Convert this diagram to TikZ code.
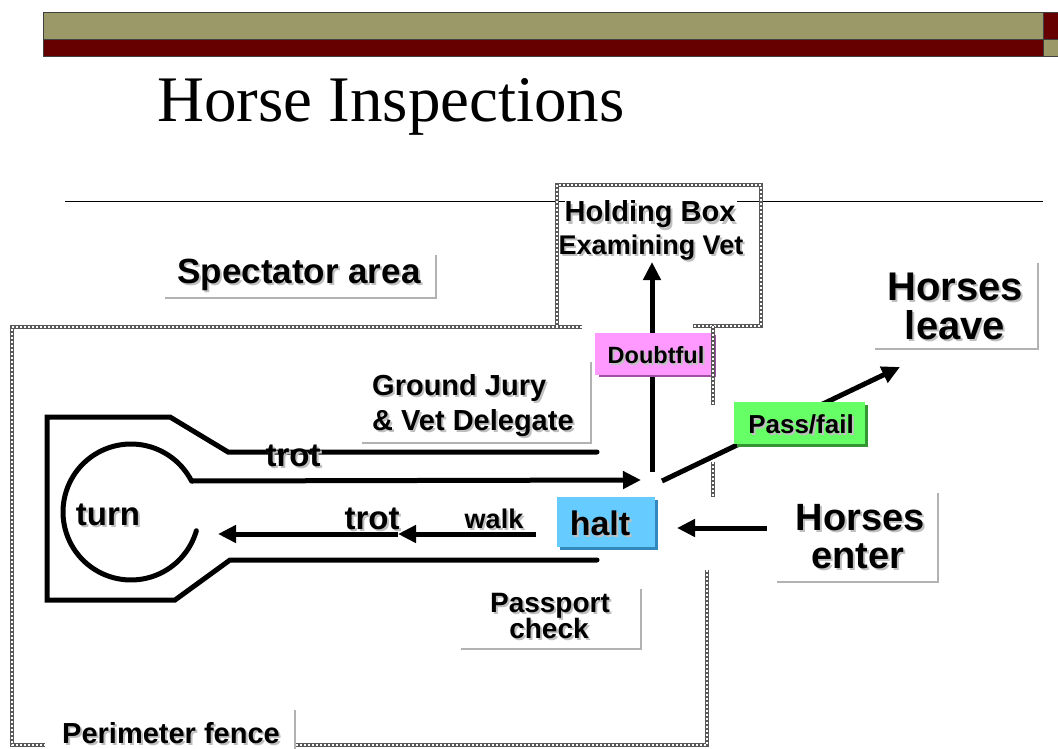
\documentclass[tikz,border=0pt]{standalone}
\usepackage{fontspec}
\setmainfont{Liberation Sans}
\newfontfamily\serifttl{Liberation Serif}
\usetikzlibrary{arrows.meta}
\definecolor{olivebar}{RGB}{155,153,104}
\definecolor{redbar}{RGB}{102,0,0}
\definecolor{pinkbox}{RGB}{255,153,255}
\definecolor{pinksh}{RGB}{160,80,160}
\definecolor{greenbox}{RGB}{102,255,102}
\definecolor{greensh}{RGB}{51,150,51}
\definecolor{bluebox}{RGB}{102,204,255}
\definecolor{bluesh}{RGB}{51,136,190}
\newcommand\shtxt[5]{%
  \node[txt, anchor=#3, text=gray!50, shift={(2,2)}, font=\fontsize{#4}{#4}\selectfont\bfseries] (#1s) at (#2) {#5};
  \node[txt, anchor=#3, font=\fontsize{#4}{#4}\selectfont\bfseries] (#1) at (#2) {#5};}
\begin{document}
\begin{tikzpicture}[x=1pt,y=-1pt,
  track/.style={line width=5pt, line cap=round, line join=miter},
  arr/.style={line width=5pt, -{Triangle[length=18pt,width=17pt]}},
  fence/.style={draw=white, line width=1.2pt, dash pattern=on 2pt off 2pt,
    preaction={draw=black!65, line width=4.5pt, solid}},
  frame/.style={line width=1.8pt, draw=gray!60},
  txt/.style={inner sep=0pt},
  cbox/.style={inner sep=0pt, anchor=north west, draw=none},
  ]
\useasboundingbox (0,0) rectangle (1058,749);
% top bars
\filldraw[fill=olivebar, draw=black!75, line width=1pt] (43,13) rectangle (1043,40);
\filldraw[fill=redbar, draw=black!75, line width=1pt] (43,40) rectangle (1043,57);
\filldraw[fill=redbar, draw=black!75, line width=1pt] (1043,13) rectangle (1062,40);
\filldraw[fill=olivebar, draw=black!75, line width=1pt] (1043,40) rectangle (1062,57);
% title
\node[txt, anchor=base west, font=\serifttl\fontsize{65}{65}\selectfont] (title) at (157,122) {Horse Inspections};
% rule
\draw[line width=1pt] (65,201) -- (565,201);
\draw[line width=1pt] (737,201) -- (1043,201);
% track
\draw[track] (597,452) -- (228,452) -- (170,417) -- (47,417) -- (47,600) -- (175,600) -- (230,560) -- (597,560);
\draw[track] plot[domain=-27:-344, samples=90, smooth] ({131+68*cos(\x)},{512+68*sin(\x)});
\coordinate (tA) at (191.6,481);
\coordinate (tB) at (641,480);
\draw[arr] (tA) -- (tB);
\coordinate (wA) at (536,534);
\coordinate (wB) at (398,534);
\coordinate (wC) at (218,534);
\draw[arr] (wB) -- (wC);
\draw[arr] (wA) -- (wB);
\coordinate (eA) at (767,528);
\coordinate (eB) at (677,528);
\draw[arr] (eA) -- (eB);
\coordinate (dA) at (652,472);
\coordinate (dB) at (652,262);
\draw[arr] (dA) -- (dB);
\coordinate (pA) at (662,481);
\coordinate (pB) at (900,367);
\draw[arr] (pA) -- (pB);
% coloured boxes
\node[cbox, fill=pinksh, minimum width=117pt, minimum height=42pt] (doubtsh) at (599,335) {};
\node[cbox, fill=pinkbox, minimum width=117pt, minimum height=42pt] (doubtbox) at (595,333) {};
\node[cbox, fill=greensh, minimum width=131pt, minimum height=42pt] (passsh) at (737,405) {};
\node[cbox, fill=greenbox, minimum width=131pt, minimum height=42pt] (passbox) at (734,402) {};
\node[cbox, fill=bluesh, minimum width=98pt, minimum height=50pt] (haltsh) at (560,500) {};
\node[cbox, fill=bluebox, minimum width=98pt, minimum height=50pt] (haltbox) at (557,497) {};
% fences
\draw[fence] (582,327) -- (12,327) -- (12,745) -- (707,745) -- (707,570);
\draw[fence] (557,327) -- (557,185) -- (761,185) -- (761,326) -- (693,326);
\draw[fence] (713,326) -- (713,405);
\draw[fence] (713,462) -- (713,497);
% label frames
\draw[frame] (165,298) -- (436,298) -- (436,255);
\draw[frame] (362,443) -- (591,443) -- (591,362);
\draw[frame] (875,349) -- (1038,349) -- (1038,263);
\draw[frame] (777,582) -- (938,582) -- (938,493);
\draw[frame] (461,649) -- (641,649) -- (641,589);
\fill[white] (45,705) rectangle (295,752);
\draw[frame] (295,752) -- (295,710);
% texts
\shtxt{hold}{650,222}{base}{29}{Holding Box}
\shtxt{exam}{651,254}{base}{27}{Examining Vet}
\shtxt{spec}{299,283}{base}{35}{Spectator area}
\shtxt{leaveA}{955,300}{base}{40}{Horses}
\shtxt{leaveB}{955,339}{base}{40}{leave}
\shtxt{enterA}{860,530}{base}{38}{Horses}
\shtxt{enterB}{858,568}{base}{38}{enter}
\shtxt{gjA}{372,395}{base west}{29}{Ground Jury}
\shtxt{gjB}{372,430}{base west}{29}{\& Vet Delegate}
\shtxt{trotA}{293,466}{base}{33}{trot}
\shtxt{trotB}{372,529}{base}{33}{trot}
\shtxt{walk}{494,528}{base}{27}{walk}
\shtxt{turn}{108,525}{base}{33}{turn}
\shtxt{halt}{600,535}{base}{34}{halt}
\shtxt{doubt}{656,363}{base}{23.5}{Doubtful}
\shtxt{pass}{801,433}{base}{26}{Pass/fail}
\shtxt{ppA}{550,612}{base}{28}{Passport}
\shtxt{ppB}{549,638}{base}{28}{check}
\shtxt{perim}{171,743}{base}{29}{Perimeter fence}
\end{tikzpicture}
\end{document}
